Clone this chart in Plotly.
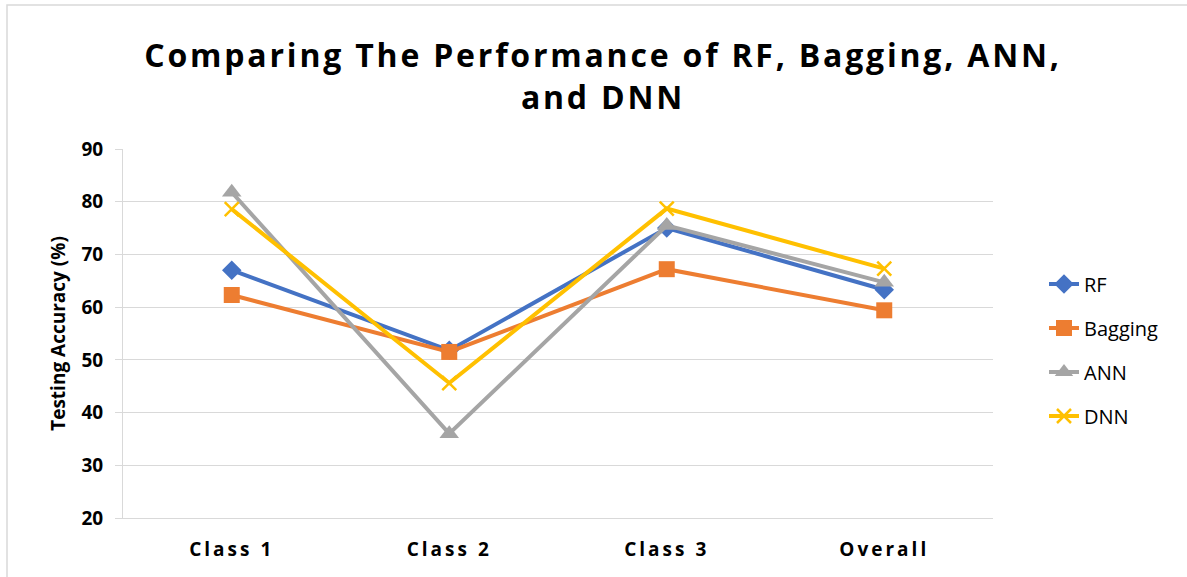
import plotly.graph_objects as go

categories = ["Class 1", "Class 2", "Class 3", "Overall"]
rf = [67.0, 51.8, 75.0, 63.3]
bagging = [62.3, 51.5, 67.2, 59.4]
ann = [81.8, 36.0, 75.5, 64.7]
dnn = [78.6, 45.6, 78.7, 67.3]
y_ticks = [20, 30, 40, 50, 60, 70, 80, 90]

series = [
    ("RF", rf, "#4472C4", "diamond", 15, 0),
    ("Bagging", bagging, "#ED7D31", "square", 16, 0),
    ("ANN", ann, "#A5A5A5", "triangle-up", 17, 0),
    ("DNN", dnn, "#FFC000", "x-thin-open", 14, 2.5),
]

W, H = 1187, 577
L, R, T, B = 123, 194, 149, 59
pw, ph = W - L - R, H - T - B

fig = go.Figure()
for name, vals, color, sym, size, lw in series:
    marker = dict(symbol=sym, size=size, color=color)
    if lw:
        marker["line"] = dict(color=color, width=lw)
    else:
        marker["line"] = dict(width=0)
    fig.add_trace(go.Scatter(
        x=categories, y=vals, name=name, mode="lines+markers",
        line=dict(color=color, width=4), marker=marker,
        legendgroup=name,
    ))

spaced = lambda s, px: f'<span style="letter-spacing:{px}px">{s}</span>'

fig.update_layout(
    width=W, height=H,
    margin=dict(l=L, r=R, t=T, b=B),
    paper_bgcolor="white", plot_bgcolor="white",
    font=dict(family="Open Sans", color="black"),
    title=dict(
        text=spaced("Comparing The Performance of RF, Bagging, ANN,", 2.8) + "<br>" + spaced("and DNN", 2.8),
        font=dict(family="Open Sans", size=32, weight="bold", color="black"),
        x=(603 - L) / pw, xanchor="center", xref="paper",
        y=1 - 67 / H, yanchor="middle", yref="container",
    ),
    xaxis=dict(
        showgrid=False, showline=True, linecolor="#D9D9D9", linewidth=1,
        ticks="", tickfont=dict(size=19, weight="bold", color="black"),
        tickmode="array", tickvals=categories,
        ticktext=[spaced(c, 3) for c in categories],
        ticklabelstandoff=14,
        range=[-0.5, 3.5],
    ),
    yaxis=dict(
        range=[20, 90], tickvals=y_ticks, showgrid=True, gridcolor="#D9D9D9",
        gridwidth=1, showline=True, linecolor="#D9D9D9", linewidth=1,
        ticks="outside", ticklen=7, tickcolor="#D9D9D9", zeroline=False,
        tickfont=dict(size=19, weight="bold", color="black"),
        ticklabelstandoff=8,
        title=dict(text="Testing Accuracy (%)",
                   font=dict(size=19, weight="bold", color="black"),
                   standoff=10),
    ),
    legend=dict(
        x=(1044 - L) / pw, xanchor="left", y=(H - B - 350) / ph, yanchor="middle",
        font=dict(size=20, color="black"), tracegroupgap=15,
        bgcolor="rgba(0,0,0,0)",
    ),
    shapes=[dict(type="rect", xref="paper", yref="paper",
                 x0=(7 - L) / pw, x1=(W + 20 - L) / pw,
                 y0=-(B + 20) / ph, y1=(H - B - 5) / ph,
                 line=dict(color="#D9D9D9", width=1.5), layer="below")],
)

fig.write_html("out.html", config={"displayModeBar": False},
               post_script="document.body.style.margin='0';document.body.style.overflow='hidden';")
